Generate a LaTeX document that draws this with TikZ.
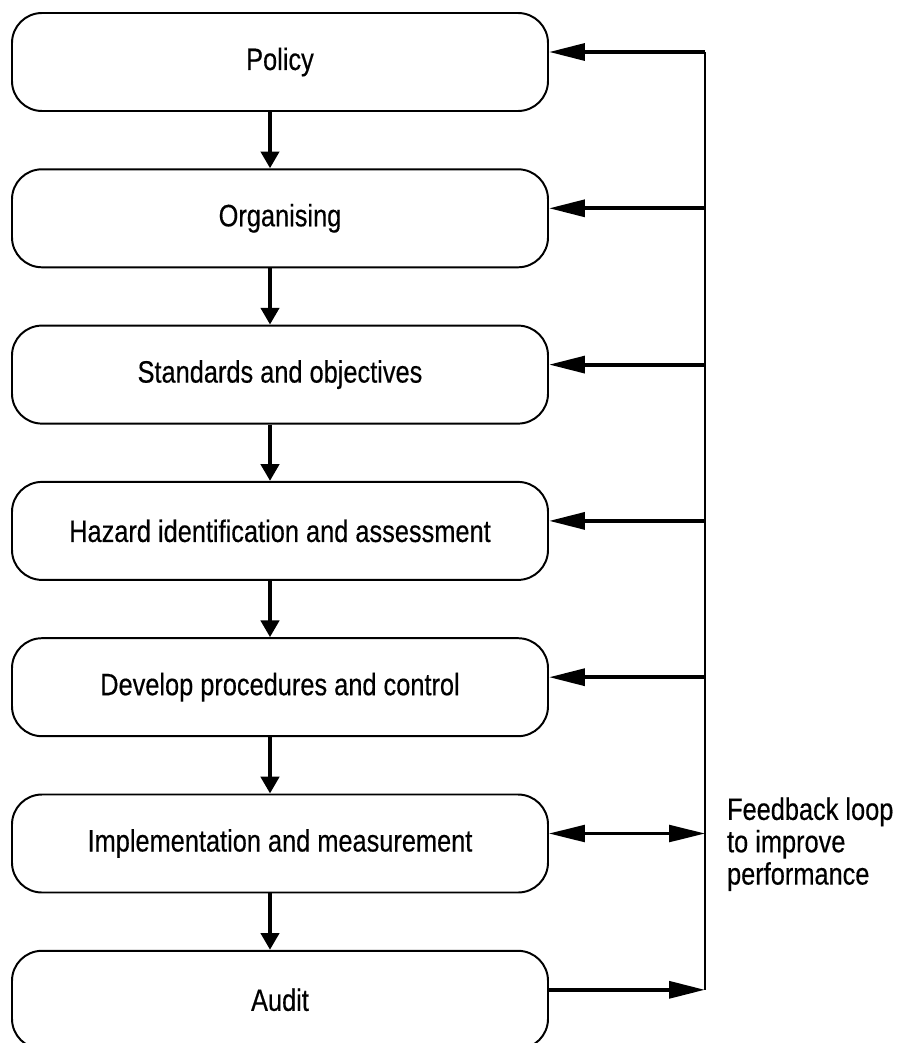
\documentclass[tikz,border=0pt]{standalone}
\usepackage{fontspec}
\setmainfont[FakeStretch=0.82, FakeBold=0.4]{Liberation Sans}
\usetikzlibrary{arrows.meta, positioning}

\begin{document}
\begin{tikzpicture}[
  stage/.style={draw, line width=1.4pt, rounded corners=0.75cm, minimum width=13.4cm, minimum height=2.45cm, align=center, inner sep=0pt},
  down/.style={line width=3pt, -{Triangle[length=0.42cm, width=0.45cm]}},
  back/.style={line width=2.8pt, -{Triangle[length=0.9cm, width=0.42cm]}},
  both/.style={line width=2.2pt, {Triangle[length=0.9cm, width=0.42cm]}-{Triangle[length=0.9cm, width=0.42cm]}},
  font=\fontsize{22}{23}\selectfont,
]
  \useasboundingbox (0,0) rectangle (22.65,-26.075);

  \node[stage] (pol) at (7, -1.55) {Policy};
  \node[stage] (org) at (7, -5.4575) {Organising};
  \node[stage] (std) at (7, -9.365) {Standards and objectives};
  \node[stage] (haz) at (7, -13.2725) {Hazard identification and assessment};
  \node[stage] (dev) at (7, -17.18) {Develop procedures and control};
  \node[stage] (imp) at (7, -21.0875) {Implementation and measurement};
  \node[stage] (aud) at (7, -24.995) {Audit};

  \draw[down] ([xshift=-0.25cm]pol.south) -- ([xshift=-0.25cm]org.north);
  \draw[down] ([xshift=-0.25cm]org.south) -- ([xshift=-0.25cm]std.north);
  \draw[down] ([xshift=-0.25cm]std.south) -- ([xshift=-0.25cm]haz.north);
  \draw[down] ([xshift=-0.25cm]haz.south) -- ([xshift=-0.25cm]dev.north);
  \draw[down] ([xshift=-0.25cm]dev.south) -- ([xshift=-0.25cm]imp.north);
  \draw[down] ([xshift=-0.25cm]imp.south) -- ([xshift=-0.25cm]aud.north);

  % feedback loop
  \coordinate (f1) at (17.625, -1.3);
  \coordinate (f2) at (17.625, -5.2075);
  \coordinate (f3) at (17.625, -9.115);
  \coordinate (f4) at (17.625, -13.0225);
  \coordinate (f5) at (17.625, -16.93);
  \coordinate (f6) at (17.625, -20.8375);
  \coordinate (f7) at (17.625, -24.745);
  \draw[line width=1.4pt] (f1) -- (f7);

  \draw[back] (f1) -- (f1 -| pol.east);
  \draw[back] (f2) -- (f2 -| org.east);
  \draw[back] (f3) -- (f3 -| std.east);
  \draw[back] (f4) -- (f4 -| haz.east);
  \draw[back] (f5) -- (f5 -| dev.east);
  \draw[both] (f6 -| imp.east) -- (f6);
  \draw[back] (f7 -| aud.east) -- (f7);

  \node[anchor=north west, align=left, inner sep=0pt] (loop) at (18.17, -19.93) {Feedback loop\\to improve\\performance};
\end{tikzpicture}
\end{document}
